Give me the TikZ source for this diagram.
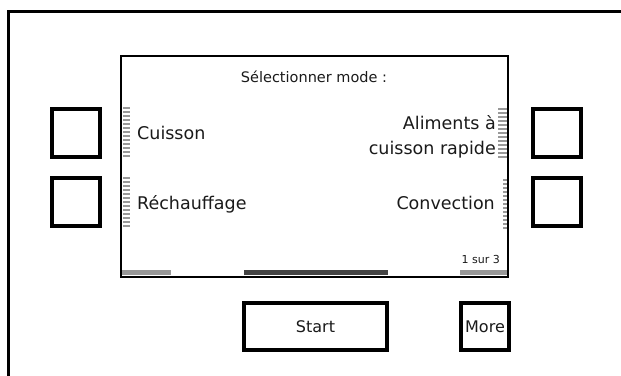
\documentclass[tikz,border=0pt]{standalone}
\usepackage{fontspec}
\setmainfont{DejaVu Sans}
\definecolor{stripegray}{HTML}{999999}
\definecolor{bardark}{HTML}{444444}
\definecolor{txt}{HTML}{1A1A1A}
\tikzset{
  frame/.style={line width=3pt, draw=black},
  screen/.style={line width=2.2pt, draw=black},
  hardbtn/.style={line width=4pt, draw=black},
  label/.style={inner sep=0pt, text=txt, font=\fontsize{17.5}{20}\selectfont},
  title/.style={inner sep=0pt, text=txt, font=\fontsize{14.5}{17}\selectfont},
  btntext/.style={inner sep=0pt, text=txt, font=\fontsize{16}{18}\selectfont},
  small/.style={inner sep=0pt, text=txt, font=\fontsize{11}{13}\selectfont},
  stripe/.style={draw=stripegray, line width=2.2pt},
}
\begin{document}
\begin{tikzpicture}[x=1pt,y=-1pt]
\useasboundingbox (0,0) rectangle (621,375);
\clip (0,0) rectangle (621,375);
\fill[white] (0,0) rectangle (621,375);
% outer frame
\draw[frame] (8.5,380) -- (8.5,11.5) -- (630,11.5);
% screen
\draw[screen] (121,56) rectangle (508,277);
% side stripes
\foreach \y in {108,112,...,156} \draw[stripe] (123,\y) -- (130,\y);
\foreach \y in {178,182,...,226} \draw[stripe] (123,\y) -- (130,\y);
\foreach \y in {109,113,...,157} \draw[stripe] (498,\y) -- (506.5,\y);
\foreach \y in {180,184,...,228} \draw[stripe] (503,\y) -- (506.5,\y);
% bottom bars
\fill[stripegray] (122,270) rectangle (171,275);
\fill[bardark] (244,270) rectangle (388,275);
\fill[stripegray] (460,270) rectangle (507,275);
% hardware buttons
\draw[hardbtn] (52,109) rectangle (100,157);
\draw[hardbtn] (52,178) rectangle (100,226);
\draw[hardbtn] (533,109) rectangle (581,157);
\draw[hardbtn] (533,178) rectangle (581,226);
\draw[hardbtn] (244,303) rectangle (387,350);
\draw[hardbtn] (461,303) rectangle (509,350);
% texts
\node[title] (ttl) at (314,77) {Sélectionner mode :};
\node[label, anchor=west] (cuis) at (137,133) {Cuisson};
\node[label, anchor=west] (rech) at (137,204) {Réchauffage};
\node[label, anchor=east] (alim1) at (496,123) {Aliments à};
\node[label, anchor=east] (alim2) at (496,150) {cuisson rapide};
\node[label, anchor=east] (conv) at (495,203) {Convection};
\node[small, anchor=east] (page) at (500,259) {1 sur 3};
\node[btntext] (start) at (315.5,326.5) {Start};
\node[btntext] (more) at (485,326.5) {More};
\end{tikzpicture}
\end{document}
